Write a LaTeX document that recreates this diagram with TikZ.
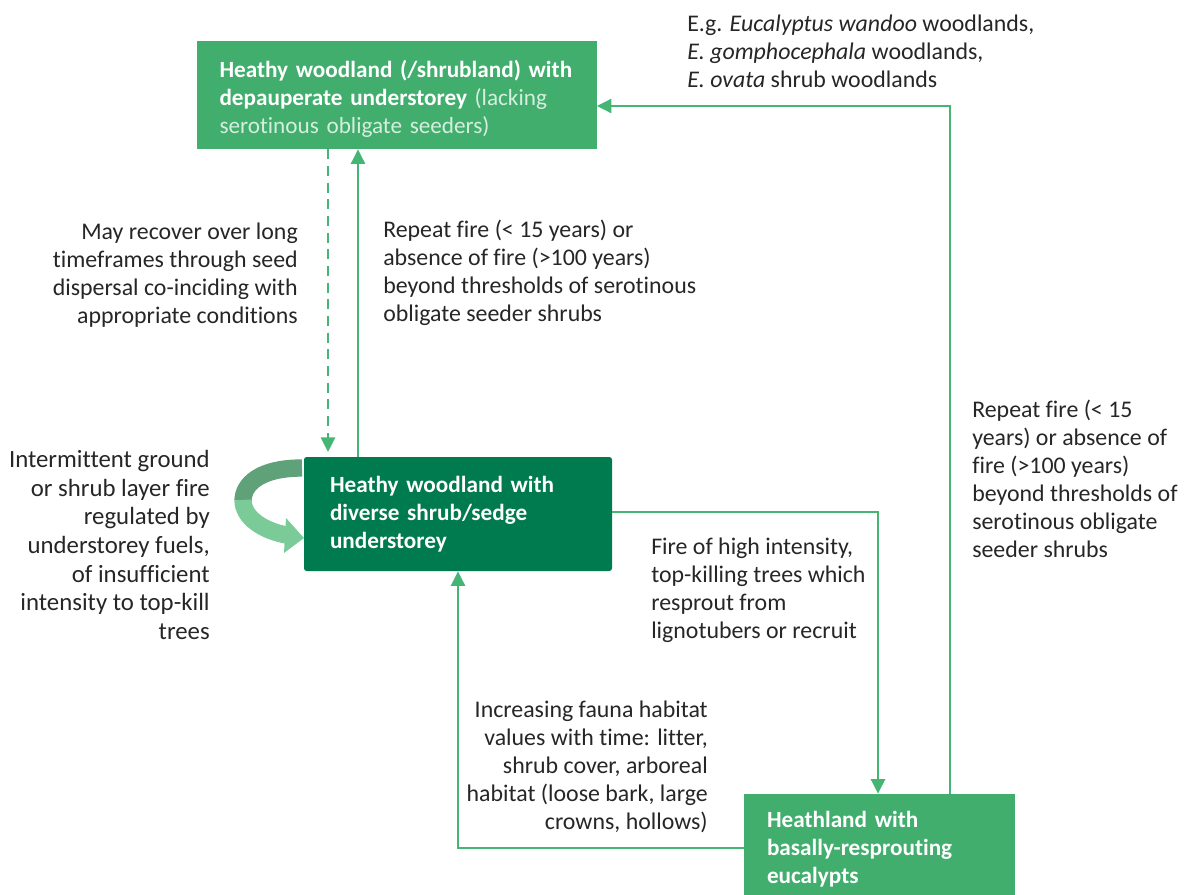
\documentclass[tikz,border=0pt]{standalone}
\usepackage{fontspec}
\setmainfont{Carlito}[Ligatures=NoCommon]
\usepackage{xcolor}
\usetikzlibrary{arrows.meta}

\definecolor{boxgreen}{HTML}{41AE6E}
\definecolor{darkgreen}{HTML}{007A4F}
\definecolor{linegreen}{HTML}{45B573}
\definecolor{textgray}{HTML}{262626}
\definecolor{paletext}{HTML}{D6EEDE}
\definecolor{firedark}{HTML}{5FA27A}
\definecolor{firelight}{HTML}{7ACB97}

\tikzset{
  statebox/.style={fill=boxgreen, text=white, align=left, inner xsep=17.25pt, inner ysep=0pt,
    font=\fontsize{17.4}{21}\selectfont},
  conn/.style={draw=linegreen, line width=1.9pt, -{Triangle[length=11pt,width=10.5pt]}},
  lbl/.style={inner sep=0pt, text=textgray}
}

\begin{document}
\begin{tikzpicture}[x=0.75pt,y=-0.75pt,every node/.style={font=\fontsize{17.9}{21}\selectfont}]
\useasboundingbox (0,0) rectangle (1191,895);

% states
\node[statebox, text width=265.5pt, minimum height=81pt] (depauperate) at (396.5,95)
  {\rule{0pt}{19pt}\textbf{Heathy woodland (/shrubland) with}\\
   \textbf{depauperate understorey} \textcolor{paletext}{(lacking}\\
   \textcolor{paletext}{serotinous obligate seeders)}};
\node[statebox, fill=darkgreen, rounded corners=2pt, inner xsep=19.5pt, text width=192pt, minimum height=85.5pt] (diverse) at (458,514)
  {\bfseries Heathy woodland with\\ diverse shrub/sedge\\ understorey};
\node[statebox, text width=168.75pt, minimum height=82.5pt] (heathland) at (879.5,849)
  {\bfseries Heathland with\\ basally-resprouting\\ eucalypts};

% turning points
\coordinate (dashx) at (328,0);
\coordinate (upx) at (358,0);
\coordinate (corner) at (950,106);
\coordinate (downx) at (878,512);
\coordinate (backx) at (458,848);

% connectors
\draw[conn, dash pattern=on 7.5pt off 5pt] (depauperate.south -| dashx) -- ([yshift=3.5pt]diverse.north -| dashx);
\draw[conn] (diverse.north -| upx) -- (depauperate.south -| upx);
\draw[conn] (diverse.east |- downx) -| (heathland.north -| downx);
\draw[conn] (heathland.west |- backx) -| (diverse.south -| backx);
\draw[conn] (heathland.north -| corner) |- (depauperate.east |- corner);

% self loop
\draw[firedark, line width=13pt] (302,468) .. controls (260,468) and (243,484) .. (243,501);
\draw[firelight, line width=13pt] (243,500) .. controls (243,517) and (262,531) .. (289,535.5);
\fill[firelight] (286,518) -- (304,538) -- (284,553) -- cycle;

% labels
\node[lbl, anchor=north west, align=left] (eglabel) at (687,15)
  {E.g. \textit{Eucalyptus wandoo} woodlands,\\ \textit{E. gomphocephala} woodlands,\\ \textit{E. ovata} shrub woodlands};
\node[lbl, anchor=north east, align=right] (recoverlabel) at (298,223)
  {May recover over long\\ timeframes through seed\\ dispersal co-inciding with\\ appropriate conditions};
\node[lbl, anchor=north west, align=left] (repeatlabel) at (383,220)
  {Repeat fire (< 15 years) or\\ absence of fire (>100 years)\\ beyond thresholds of serotinous\\ obligate seeder shrubs};
\node[lbl, anchor=north west, align=left] (repeatlabelright) at (972,400)
  {Repeat fire (< 15\\ years) or absence of\\ fire (>100 years)\\ beyond thresholds of\\ serotinous obligate\\ seeder shrubs};
\node[lbl, anchor=north east, align=right, font=\fontsize{18.6}{21.5}\selectfont] (intermittentlabel) at (210,450)
  {Intermittent ground\\ or shrub layer fire\\ regulated by\\ understorey fuels,\\ of insufficient\\ intensity to top-kill\\ trees};
\node[lbl, anchor=north west, align=left] (highfirelabel) at (651,538)
  {Fire of high intensity,\\ top-killing trees which\\ resprout from\\ lignotubers or recruit};
\node[lbl, anchor=north east, align=right] (faunalabel) at (708,701)
  {Increasing fauna habitat\\ values with time: litter,\\ shrub cover, arboreal\\ habitat (loose bark, large\\ crowns, hollows)};
\end{tikzpicture}
\end{document}
